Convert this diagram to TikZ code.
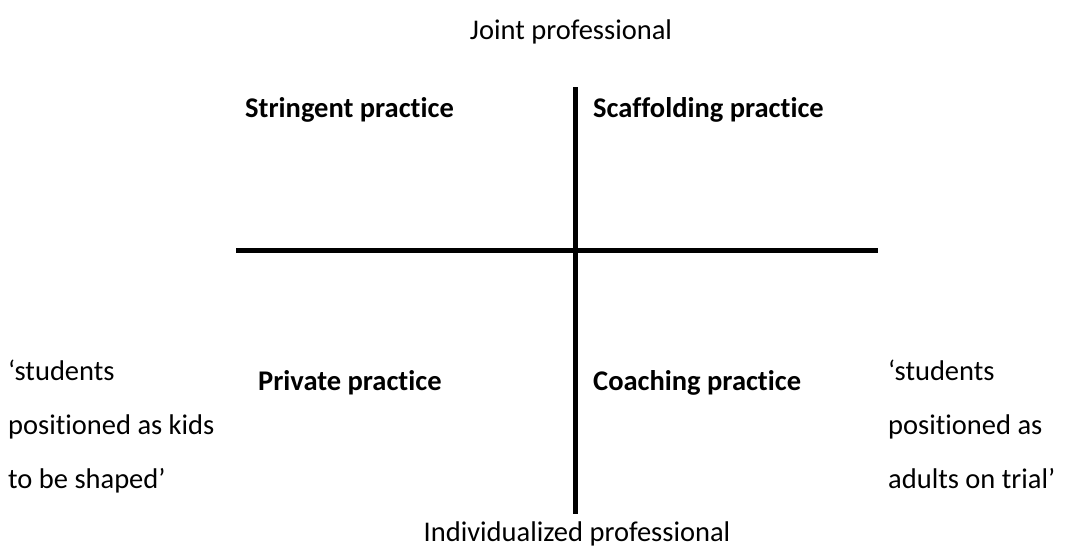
\documentclass[tikz,border=0pt]{standalone}
\usepackage{fontspec}
\setmainfont{Carlito}[Ligatures=NoCommon]
\begin{document}
\begin{tikzpicture}[x=1pt,y=-1pt,
  txt/.style={inner sep=0pt,anchor=base west,font=\fontsize{28.5}{34}\selectfont},
  ctxt/.style={inner sep=0pt,anchor=base,font=\fontsize{28.5}{34}\selectfont},
  quad/.style={inner sep=0pt,anchor=base west,font=\fontsize{28.5}{34}\selectfont\bfseries},
  axis/.style={line width=5pt,black}]
\useasboundingbox (0,0) rectangle (1066,546);
\coordinate (vtop) at (575,87);
\coordinate (vbot) at (575,514);
\coordinate (hl) at (236,250);
\coordinate (hr) at (878,250);
\draw[axis] (vtop) -- (vbot);
\draw[axis] (hl) -- (hr);
\node[ctxt] (joint) at (571,39) {Joint professional};
\node[ctxt] (indiv) at (577,541) {Individualized professional};
\node[quad] (str) at (245,117) {Stringent practice};
\node[quad] (sca) at (593,117) {Scaffolding practice};
\node[quad] (pri) at (258,390) {Private practice};
\node[quad] (coa) at (593,390) {Coaching practice};
\node[txt] (l1) at (8,380) {‘students};
\node[txt] (l2) at (8,434) {positioned as kids};
\node[txt] (l3) at (8,488) {to be shaped’};
\node[txt] (r1) at (888,380) {‘students};
\node[txt] (r2) at (888,434) {positioned as};
\node[txt] (r3) at (888,488) {adults on trial’};
\end{tikzpicture}
\end{document}
